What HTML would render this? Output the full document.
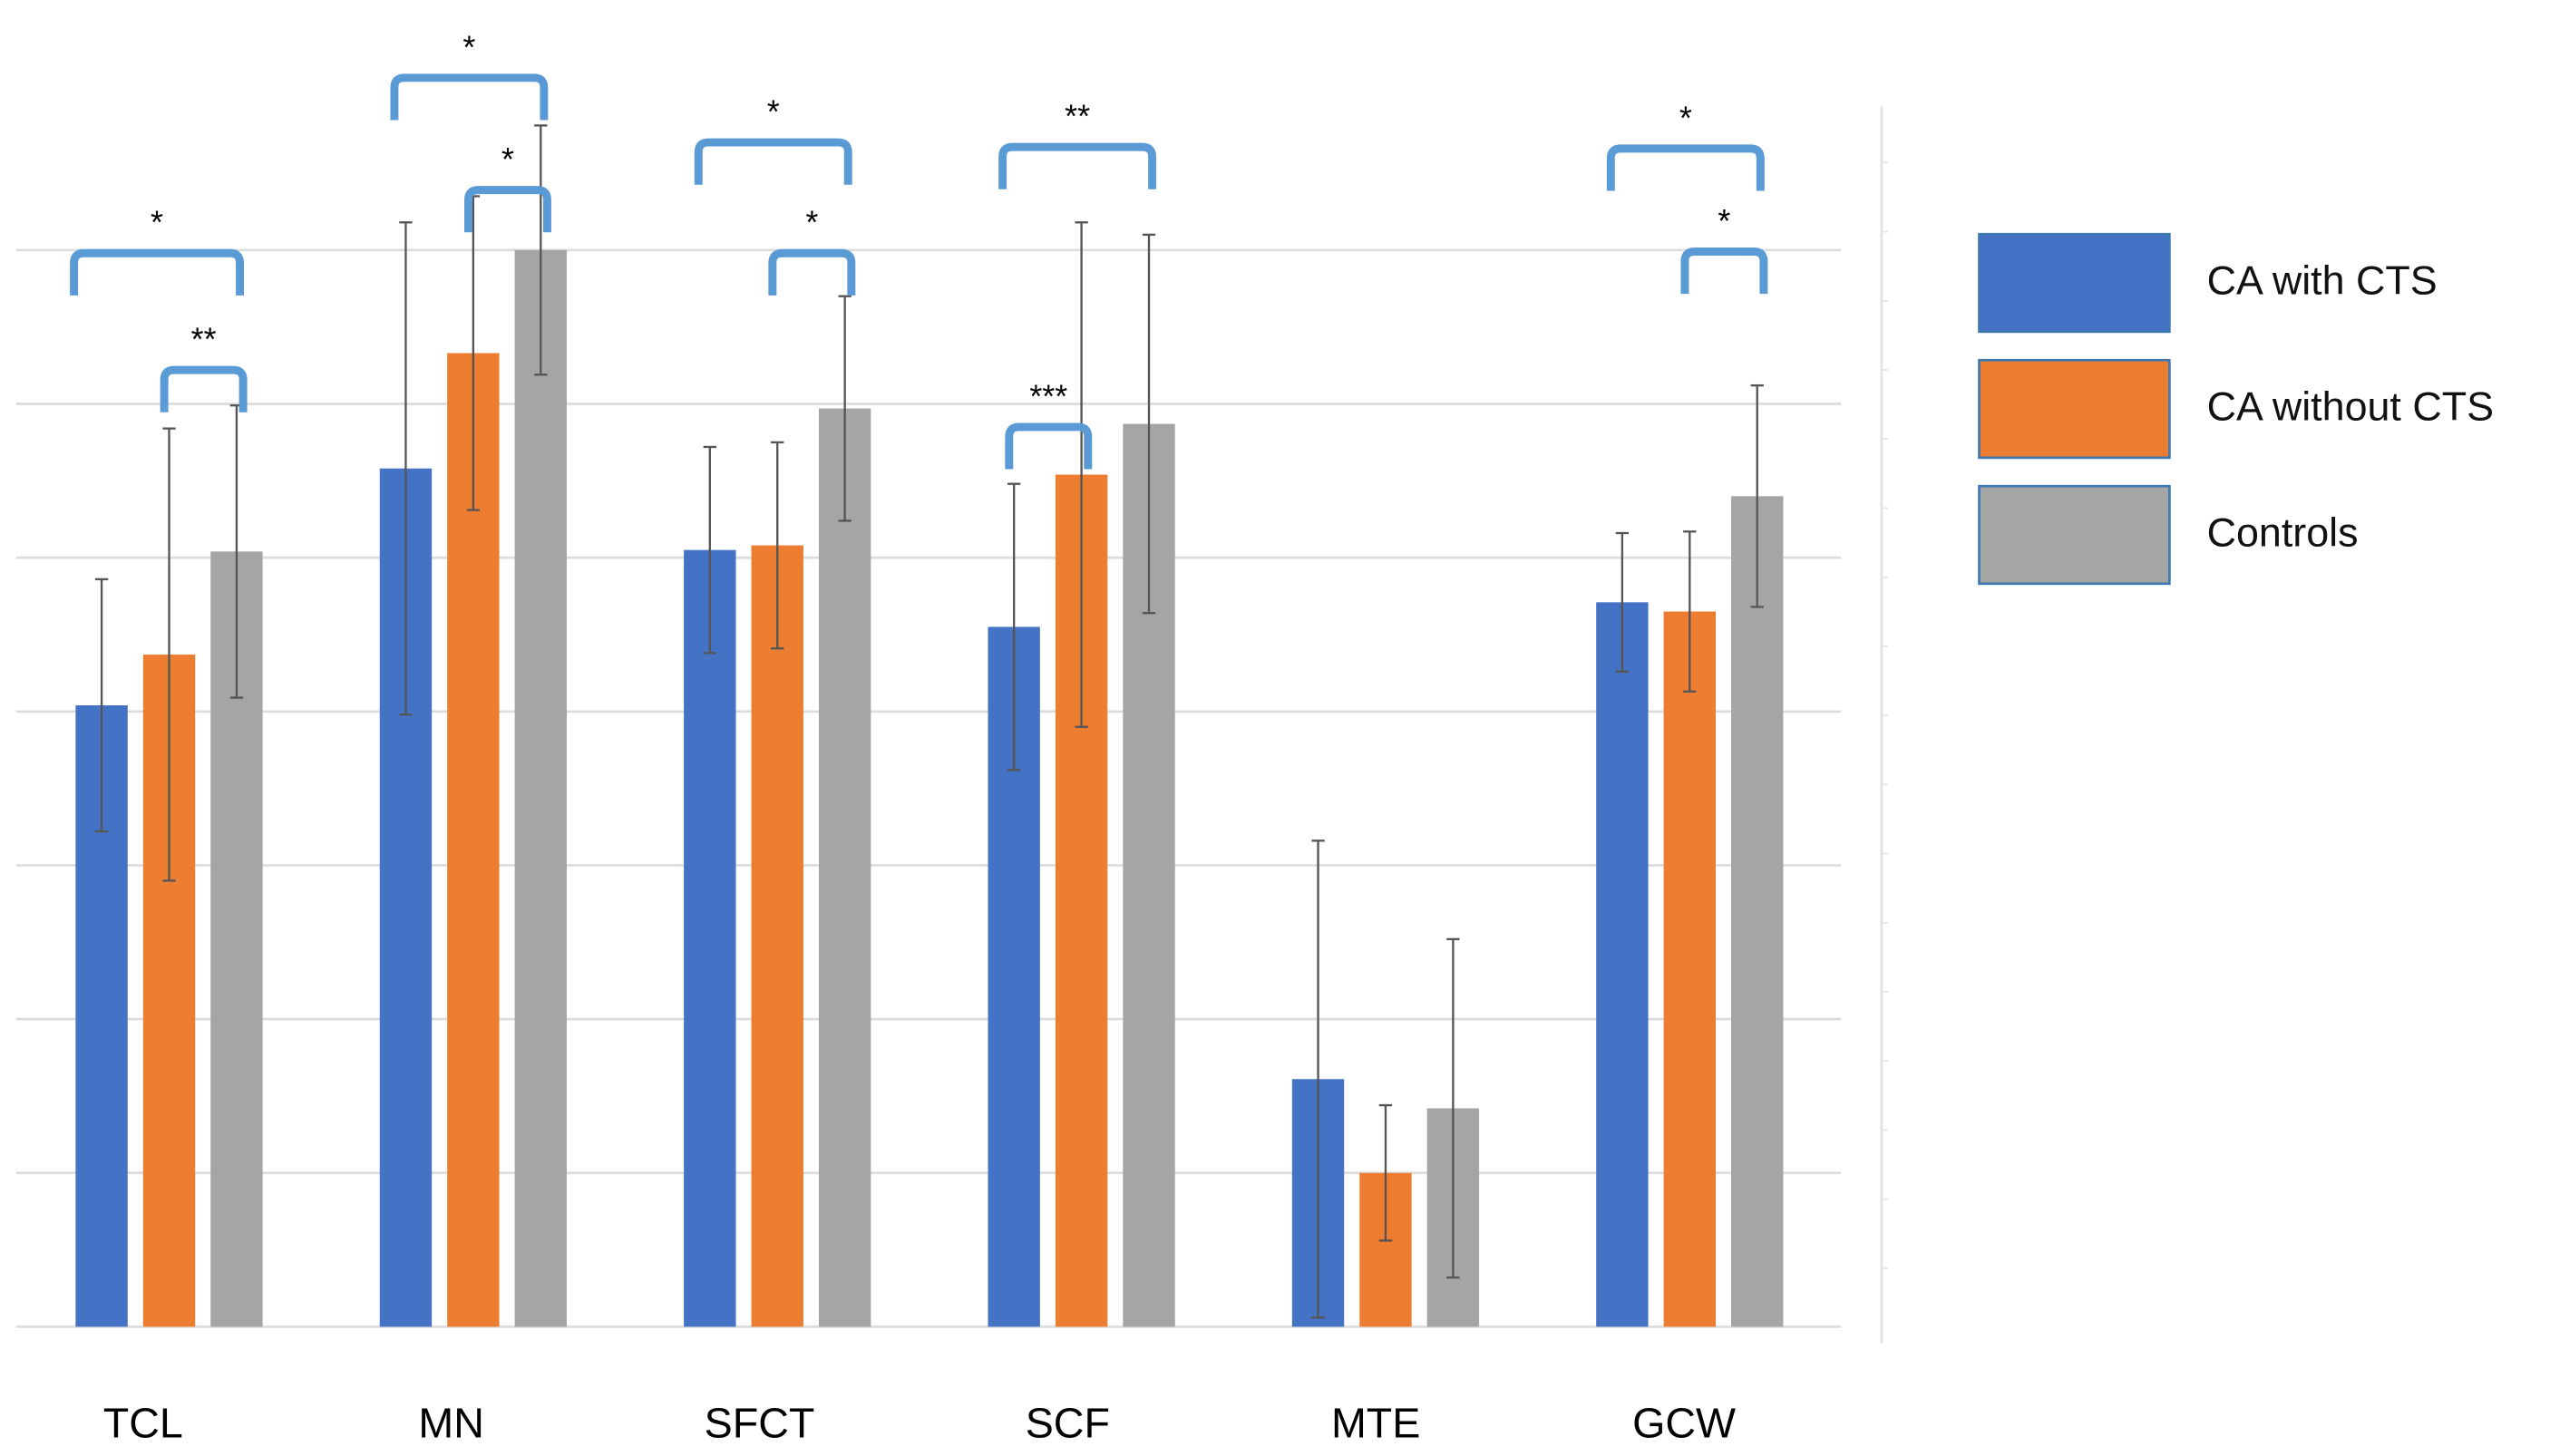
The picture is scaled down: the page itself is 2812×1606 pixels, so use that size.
<!DOCTYPE html>
<html><head><meta charset="utf-8"><style>
html,body{margin:0;padding:0;background:#fff;}
svg{display:block;}
text{font-family:"Liberation Sans",sans-serif;}
</style></head><body>
<svg id="chart" width="2812" height="1606" viewBox="0 0 1568 895.5" preserveAspectRatio="none" xmlns="http://www.w3.org/2000/svg">
<g id="grid"></g>
<line x1="1157" y1="65" x2="1157" y2="826" stroke="#e2e2e2" stroke-width="1.5"/>
<g id="rticks"></g>
<g id="bars"></g>
<g id="errs"></g>
<g id="brackets"></g>
<g id="xlabels"></g>
<g id="legend"></g>
</svg>
<script>
const categories = ["TCL","MN","SFCT","SCF","MTE","GCW"];
const seriesNames = ["CA with CTS","CA without CTS","Controls"];
const withCTS = [4.04,5.58,5.05,4.55,1.61,4.71];
const withoutCTS = [4.37,6.33,5.08,5.54,1.00,4.65];
const controls = [5.04,7.00,5.97,5.87,1.42,5.40];
const errWith = [0.82,1.60,0.67,0.93,1.55,0.45];
const errWithout = [1.47,1.02,0.67,1.64,0.44,0.52];
const errControls = [0.95,0.81,0.73,1.23,1.10,0.72];
const gridTicks = [0,1,2,3,4,5,6,7];
const sigFrom = [0,0,1,1,2,2,3,3,5,5];
const sigTo = [2,2,2,2,2,2,2,1,2,2];
const sigStart = [0,1,0,1,0,1,0,0,0,1];
const sigLabels = ["*","**","*","*","*","*","**","***","*","*"];
const sigTops = [6.98,6.22,8.12,7.39,7.7,6.98,7.67,5.85,7.66,6.99];

const NS="http://www.w3.org/2000/svg";
const colors=["#4472c4","#ed7d31","#a5a5a5"];
const y0=816, unit=94.6;
function y(v){return y0-v*unit;}
const groupX0=104, groupStep=187, barW=32, barStep=41.5;
function gx(i){return groupX0+i*groupStep;}
function bx(i,s){return gx(i)+(s-1)*barStep;}
function mk(tag,attrs,parent){const e=document.createElementNS(NS,tag);for(const k in attrs)e.setAttribute(k,attrs[k]);parent.appendChild(e);return e;}
const $=id=>document.getElementById(id);

gridTicks.forEach(t=>{
  const l=mk('line',{x1:10,x2:1132,y1:y(t),y2:y(t),stroke:'#dcdcdc','stroke-width':1.5},$('grid'));
  
  
});
for(let ty=100;ty<820;ty+=42.5){
  const l=mk('line',{x1:1157,x2:1161,y1:ty,y2:ty,stroke:'#e4e4e4','stroke-width':1},$('rticks'));
  
  
}
const vals=[withCTS,withoutCTS,controls], errs=[errWith,errWithout,errControls];
categories.forEach((c,i)=>{
  for(let s=0;s<3;s++){
    const v=vals[s][i], cx=bx(i,s);
    const r=mk('rect',{x:cx-barW/2,y:y(v),width:barW,height:y0-y(v),fill:colors[s]},$('bars'));
    
    
    const e=errs[s][i];
    const g=mk('g',{stroke:'#555','stroke-width':1.3},$('errs'));
    
    
    mk('line',{x1:cx,x2:cx,y1:y(v+e),y2:y(v-e)},g);
    mk('line',{x1:cx-4,x2:cx+4,y1:y(v+e),y2:y(v+e)},g);
    mk('line',{x1:cx-4,x2:cx+4,y1:y(v-e),y2:y(v-e)},g);
  }
  const t=mk('text',{x:gx(i)-16+i*2.5,y:884,'text-anchor':'middle','font-size':26},$('xlabels'));
  t.textContent=c;
  
  
});
sigFrom.forEach((ci,k)=>{
  const big = sigStart[k]===0 && sigTo[k]===2;
  const x1 = big ? bx(ci,0)-(ci===0?17:7) : bx(ci,sigStart[k])-3;
  const x2 = big ? bx(ci,2)+2 : bx(ci,sigTo[k])+4;
  const top=y(sigTops[k]);
  const p=mk('path',{d:`M${x1},${top+26} L${x1},${top+6} Q${x1},${top} ${x1+6},${top} L${x2-6},${top} Q${x2},${top} ${x2},${top+6} L${x2},${top+26}`,fill:'none',stroke:'#5b9bd5','stroke-width':5},$('brackets'));
  
  
  const t=mk('text',{x:(x1+x2)/2,y:top-12,'text-anchor':'middle','font-size':20},$('brackets'));
  t.textContent=sigLabels[k];
  
  
});
seriesNames.forEach((n,s)=>{
  const g=mk('g',{},$('legend'));
  
  
  const top=144+s*77.5;
  mk('rect',{x:1217,y:top,width:117,height:60,fill:colors[s],stroke:'#3d78b0','stroke-width':1.5},g);
  const t=mk('text',{x:1357,y:top+37,'font-size':25,fill:'#111'},g);
  t.textContent=n;
});
</script>
</body></html>
